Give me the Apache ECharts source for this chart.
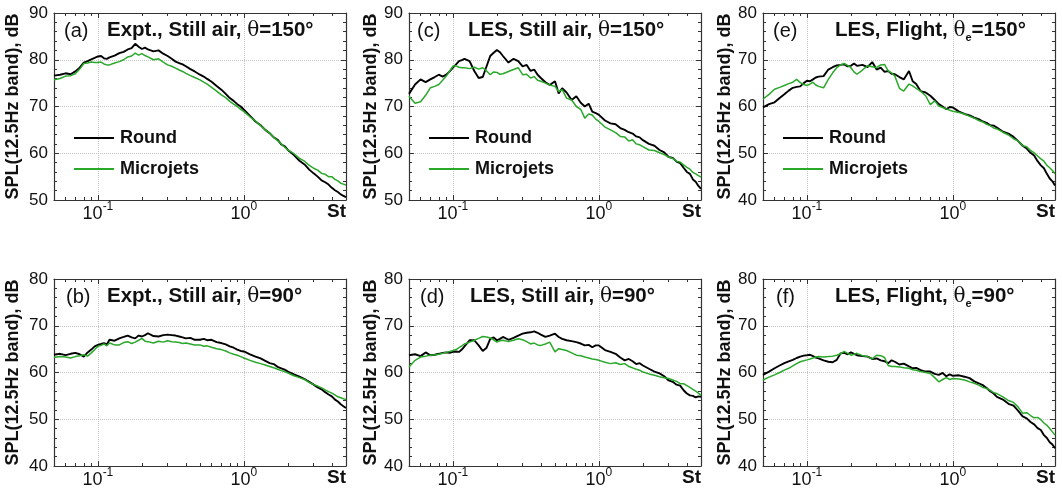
<!DOCTYPE html>
<html><head><meta charset="utf-8">
<script src="https://cdn.jsdelivr.net/npm/echarts@6/dist/echarts.min.js"></script>
<style>html,body{margin:0;padding:0;background:#fff}#c{width:1062px;height:494px}</style>
</head><body><div id="c"></div><script>
// Strouhal numbers (shared abscissa)
const st = [
  0.05,0.055,0.06,0.065,0.07,0.075,0.08,0.085,0.09,0.095,
  0.1,0.105,0.11,0.115,0.12,0.13,0.14,0.15,0.16,0.17,
  0.18,0.19,0.2,0.21,0.22,0.24,0.26,0.28,0.3,0.32,
  0.34,0.36,0.38,0.4,0.43,0.46,0.5,0.53,0.56,0.6,
  0.65,0.7,0.75,0.8,0.85,0.9,0.95,1.0,1.1,1.2,
  1.3,1.4,1.5,1.6,1.7,1.8,1.9,2.0,2.2,2.4,
  2.6,2.8,3.0,3.2,3.4,3.6,3.8,4.0,4.2,4.4,
  4.6,4.8,5.0];

// (a) Expt., still air, 150 deg
const aRound = [
  76.6,76.8,77.1,76.9,77.5,78.3,79.4,79.7,80.1,80.4,
  80.7,80.8,80.3,80.2,80.5,80.9,81.4,81.7,82.2,82.5,
  83.4,82.8,82.3,82.6,82.2,81.8,82.0,81.3,80.8,80.2,
  79.6,79.3,79.0,78.6,78.0,77.5,76.8,76.4,75.9,75.3,
  74.4,73.6,72.7,71.8,71.2,70.5,70.0,69.3,68.0,66.8,
  66.0,65.0,64.3,63.4,62.9,61.9,61.5,60.7,59.6,58.4,
  57.6,56.5,55.7,55.0,54.2,53.8,53.3,52.6,52.1,51.7,
  51.2,50.9,50.6];
const aMicro = [
  75.7,76.0,76.5,76.6,77.0,78.0,79.2,79.3,79.5,79.4,
  79.4,79.5,79.1,78.9,78.9,79.3,79.6,80.0,80.6,80.8,
  81.4,81.0,81.3,80.9,80.6,80.0,80.2,79.5,78.9,78.6,
  78.2,77.8,77.5,77.1,76.6,76.2,75.7,75.2,74.8,74.1,
  73.3,72.5,71.9,71.1,70.5,70.0,69.4,68.9,67.8,66.9,
  65.9,65.0,64.3,63.4,62.7,62.0,61.3,60.7,59.9,58.9,
  58.3,57.4,56.8,56.4,55.7,55.5,55.0,55.0,54.4,54.1,
  53.6,53.4,53.2];
// (c) LES, still air, 150 deg
const cRound = [
  72.7,74.7,75.8,75.2,75.8,76.3,76.8,76.4,76.8,77.5,
  78.3,79.0,79.7,79.9,80.2,79.7,77.6,76.1,76.3,78.6,
  80.8,81.5,82.1,81.6,80.8,79.4,80.2,79.7,78.6,78.9,
  77.6,77.9,76.8,76.1,75.2,74.6,75.4,72.8,73.9,73.0,
  71.4,72.2,70.8,70.0,70.6,68.9,68.6,68.2,67.0,66.4,
  66.2,65.4,65.0,64.5,64.2,63.6,63.4,62.8,62.0,61.6,
  60.7,60.2,59.2,59.0,58.2,57.9,56.9,56.0,55.6,54.4,
  53.9,53.0,52.4];
const cMicro = [
  72.2,70.7,71.0,72.4,74.0,74.3,74.7,75.6,76.5,77.6,
  78.6,78.7,78.4,78.3,78.3,78.1,78.4,78.0,78.3,77.6,
  76.8,77.4,77.3,76.9,77.0,77.5,77.9,78.3,76.8,76.9,
  76.1,76.4,75.6,75.4,75.0,74.6,74.3,73.2,73.6,71.8,
  71.4,70.0,69.4,67.5,68.4,68.2,67.3,66.8,65.6,65.0,
  64.4,63.6,63.5,62.6,62.9,62.0,61.8,61.4,60.7,60.6,
  60.1,59.7,59.2,58.9,58.3,58.1,57.5,57.0,56.6,55.9,
  55.6,55.2,54.9];
// (e) LES, flight, 150 deg
const eRound = [
  59.8,60.5,60.9,61.8,62.6,63.4,64.0,64.2,64.3,65.0,
  65.5,65.4,65.8,66.2,66.4,66.5,67.9,68.4,68.8,68.9,
  69.0,68.6,68.7,69.2,68.7,68.9,68.4,69.5,67.9,68.3,
  67.4,67.6,67.0,66.9,66.3,65.8,67.6,65.4,64.8,63.3,
  63.0,62.3,61.4,60.5,60.0,59.4,59.9,59.8,58.9,58.4,
  58.1,57.6,57.3,56.8,56.5,56.0,55.9,55.5,54.6,54.2,
  53.5,52.6,51.6,51.0,50.1,49.5,48.3,47.4,46.8,45.6,
  44.6,44.0,43.1];
const eMicro = [
  61.6,62.6,63.7,64.1,64.5,64.9,65.2,65.8,65.1,64.7,
  64.5,64.8,65.2,64.6,64.3,64.0,65.8,67.2,68.3,68.9,
  69.2,68.8,68.3,67.4,66.9,67.8,68.7,68.5,68.3,68.9,
  69.0,67.6,67.2,66.5,63.9,63.3,64.8,64.4,63.9,63.3,
  62.3,60.4,61.2,60.1,59.8,59.5,59.2,59.0,58.7,58.4,
  57.9,57.5,57.0,56.7,56.2,55.9,55.4,55.2,54.5,53.9,
  53.1,52.6,51.6,51.4,50.6,50.1,49.4,48.8,48.3,47.4,
  46.9,46.3,45.6];
// (b) Expt., still air, 90 deg
const bRound = [
  63.8,64.0,63.7,64.0,64.2,63.9,63.4,64.3,64.9,65.6,
  65.9,66.1,66.3,66.0,67.0,66.8,67.3,67.6,67.9,67.5,
  67.3,67.9,67.7,68.0,68.4,67.8,67.7,68.0,68.1,68.0,
  67.9,67.7,67.5,67.3,67.4,67.0,67.0,67.2,66.9,67.0,
  66.5,66.3,66.0,65.6,65.3,64.9,64.6,64.5,63.9,63.4,
  63.0,62.5,62.0,61.8,61.2,60.9,60.6,60.2,59.6,59.1,
  58.6,58.0,57.4,56.8,56.4,55.8,55.3,54.9,54.2,53.8,
  53.2,52.8,52.4];
const bMicro = [
  63.2,63.4,63.3,63.1,63.4,63.6,63.8,63.5,64.2,64.9,
  65.6,65.8,66.1,65.7,66.3,65.9,65.9,66.4,66.6,66.2,
  66.5,66.9,67.3,66.7,66.6,66.3,66.7,66.5,66.8,66.6,
  66.5,66.4,66.2,66.3,66.1,65.9,65.9,65.6,65.7,65.4,
  65.1,64.9,64.6,64.2,63.9,63.7,63.4,63.1,62.6,62.2,
  61.9,61.6,61.3,61.0,60.7,60.4,60.2,59.9,59.3,58.9,
  58.5,57.9,57.4,57.1,56.7,56.3,55.9,55.6,55.2,54.8,
  54.6,54.4,54.2];
// (d) LES, still air, 90 deg
const dRound = [
  63.7,63.9,63.5,64.3,63.7,63.8,64.0,64.2,64.3,64.2,
  64.4,64.5,64.4,64.9,65.6,66.9,66.9,65.8,64.6,65.3,
  67.2,67.5,66.9,67.2,67.6,67.0,67.4,67.9,68.3,68.5,
  68.6,68.8,68.5,68.1,67.6,67.9,68.3,67.6,67.2,66.9,
  66.7,66.5,66.2,65.8,65.9,65.4,65.8,65.8,64.8,64.4,
  64.0,63.2,62.6,62.9,62.4,61.8,62.0,61.5,60.8,60.2,
  59.8,59.2,58.3,58.0,57.4,57.2,56.2,55.5,55.1,55.0,
  54.7,54.9,54.8];
const dMicro = [
  61.2,62.6,63.3,63.5,63.7,63.8,63.9,64.1,64.3,64.5,
  64.7,64.9,65.3,65.7,66.1,66.5,66.9,67.3,67.7,67.6,
  67.4,67.0,66.5,66.8,66.9,66.6,66.9,67.2,67.0,66.6,
  66.1,66.3,65.9,65.8,66.1,66.5,64.4,65.1,64.9,64.7,
  64.2,63.7,63.6,63.3,63.1,62.9,62.8,62.6,62.2,61.9,
  62.1,61.7,61.9,61.3,61.0,60.7,60.5,60.1,59.7,59.4,
  59.1,58.9,58.7,58.4,58.1,57.6,57.6,57.2,56.8,56.4,
  56.0,55.6,55.1];
// (f) LES, flight, 90 deg
const fRound = [
  59.5,60.2,60.9,61.5,62.0,62.4,62.7,63.1,63.4,63.6,
  63.7,63.8,63.5,63.2,63.0,62.6,62.3,62.2,62.7,64.1,
  64.2,63.9,64.3,64.0,63.7,63.5,63.4,62.9,63.0,62.6,
  62.4,62.0,62.6,62.3,61.7,61.9,61.3,60.9,61.0,60.5,
  60.2,60.2,59.7,59.5,59.9,59.2,59.6,59.3,59.4,59.1,
  58.8,58.1,57.7,57.3,56.7,56.0,55.5,54.8,54.2,53.3,
  52.9,51.8,50.6,50.2,49.4,48.9,48.1,47.7,46.6,46.0,
  45.1,44.6,43.8];
const fMicro = [
  58.4,59.0,59.5,60.0,60.5,60.9,61.4,61.9,62.3,62.5,
  62.7,62.9,63.1,63.3,63.4,63.3,63.4,63.5,63.7,64.0,
  64.5,64.1,63.7,63.9,64.1,63.6,63.4,62.9,63.7,63.6,
  63.2,61.5,61.3,61.3,61.2,61.0,60.9,60.6,60.5,60.2,
  60.0,59.8,58.9,58.0,58.5,58.9,58.5,58.7,58.6,58.4,
  58.0,57.7,57.3,56.8,56.6,56.2,55.7,55.5,54.8,54.0,
  53.6,52.6,51.3,51.4,50.8,50.3,50.4,49.9,49.2,48.7,
  48.0,47.3,46.6];

const seriesNames = ['Round', 'Microjets'];
const xRange = [0.05, 5];
const yRangesTop = [[50, 90], [50, 90], [40, 80]];
const yRangesBottom = [[40, 80], [40, 80], [40, 80]];
const panelLetters = ['(a)', '(c)', '(e)', '(b)', '(d)', '(f)'];
const yAxisTitle = 'SPL(12.5Hz band), dB';
const xAxisTitle = 'St';

const FONT = '"Liberation Sans", Arial, Helvetica, sans-serif';
const colLeft = [54, 409, 763];
const rowTop = [13, 279];
const W = 292, H = 187;
const nameGaps = [32, 27, 27];

const panels = [
  {col:0,row:0, y:yRangesTop[0], r:aRound, m:aMicro, letter:panelLetters[0], legend:true,
   head:'{b|Expt., Still air, }{t|θ}{b|=150°}', lx:64, hx:107},
  {col:1,row:0, y:yRangesTop[1], r:cRound, m:cMicro, letter:panelLetters[1], legend:true,
   head:'{b|LES, Still air, }{t|θ}{b|=150°}', lx:417, hx:468},
  {col:2,row:0, y:yRangesTop[2], r:eRound, m:eMicro, letter:panelLetters[2], legend:true,
   head:'{b|LES, Flight, }{t|θ}{sub|e}{b|=150°}', lx:773, hx:835},
  {col:0,row:1, y:yRangesBottom[0], r:bRound, m:bMicro, letter:panelLetters[3], legend:false,
   head:'{b|Expt., Still air, }{t|θ}{b|=90°}', lx:66, hx:107},
  {col:1,row:1, y:yRangesBottom[1], r:dRound, m:dMicro, letter:panelLetters[4], legend:false,
   head:'{b|LES, Still air, }{t|θ}{b|=90°}', lx:420, hx:470},
  {col:2,row:1, y:yRangesBottom[2], r:fRound, m:fMicro, letter:panelLetters[5], legend:false,
   head:'{b|LES, Flight, }{t|θ}{sub|e}{b|=90°}', lx:776, hx:835}
];

const AX = '#333', GRIDC = '#c4c4c4', TXT = '#111';
const grids = [], xAxes = [], yAxes = [], series = [], legends = [], graphics = [];

function xFmt(v) {
  const e = Math.log10(v);
  const r = Math.round(e);
  if (Math.abs(e - r) < 1e-6) return '{b|10}{s|' + r + '}';
  return '';
}

panels.forEach((p, i) => {
  const left = colLeft[p.col], top = rowTop[p.row];
  grids.push({left: left, top: top, width: W, height: H, show: false});
  const common = {gridIndex: i, type: 'log', logBase: 10, min: xRange[0], max: xRange[1]};
  xAxes.push(Object.assign({}, common, {
    position: 'bottom',
    axisLine: {show: true, lineStyle: {color: AX, width: 1.2}},
    axisTick: {show: true, inside: true, length: 5, lineStyle: {color: AX}},
    minorTick: {show: true, splitNumber: 9, length: 3, lineStyle: {color: AX}},
    axisLabel: {show: true, margin: 1, formatter: xFmt, showMinLabel: false, showMaxLabel: false,
      rich: {
        b: {fontSize: 18, fontFamily: FONT, color: TXT, lineHeight: 26},
        s: {fontSize: 12, fontFamily: FONT, color: TXT, verticalAlign: 'top'}
      }},
    splitLine: {show: true, lineStyle: {color: GRIDC, type: 'dotted', width: 1}},
    name: xAxisTitle, nameLocation: 'end', nameGap: 0,
    nameTextStyle: {fontFamily: FONT, fontWeight: 'bold', fontSize: 19, color: TXT,
      align: 'right', verticalAlign: 'top', padding: [2, 0, 0, 0]}
  }));
  xAxes.push(Object.assign({}, common, {
    position: 'top',
    axisLine: {show: true, lineStyle: {color: AX, width: 1.2}},
    axisTick: {show: true, inside: true, length: 5, lineStyle: {color: AX}},
    minorTick: {show: true, splitNumber: 9, length: 3, lineStyle: {color: AX}},
    axisLabel: {show: false},
    splitLine: {show: false}
  }));
  const yc = {gridIndex: i, type: 'value', min: p.y[0], max: p.y[1], interval: 10};
  yAxes.push(Object.assign({}, yc, {
    position: 'left',
    axisLine: {show: true, lineStyle: {color: AX, width: 1.2}},
    axisTick: {show: true, inside: true, length: 5, lineStyle: {color: AX}},
    minorTick: {show: true, splitNumber: 5, length: 3, lineStyle: {color: AX}},
    axisLabel: {show: true, margin: 6, fontSize: 17, fontFamily: FONT, color: TXT},
    splitLine: {show: true, lineStyle: {color: GRIDC, type: 'dotted', width: 1}},
    name: yAxisTitle, nameLocation: 'middle', nameRotate: 90, nameGap: nameGaps[p.col],
    nameTextStyle: {fontFamily: FONT, fontWeight: 'bold', fontSize: 18, color: TXT}
  }));
  yAxes.push(Object.assign({}, yc, {
    position: 'right',
    axisLine: {show: true, lineStyle: {color: AX, width: 1.2}},
    axisTick: {show: true, inside: true, length: 5, lineStyle: {color: AX}},
    minorTick: {show: true, splitNumber: 5, length: 3, lineStyle: {color: AX}},
    axisLabel: {show: false},
    splitLine: {show: false}
  }));
  series.push({
    name: seriesNames[0], type: 'line', xAxisIndex: 2 * i, yAxisIndex: 2 * i,
    showSymbol: false, symbol: 'none', silent: true, z: 3,
    lineStyle: {color: '#000000', width: 1.9}, itemStyle: {color: '#000000'},
    data: st.map((x, k) => [x, p.r[k]])
  });
  series.push({
    name: seriesNames[1], type: 'line', xAxisIndex: 2 * i, yAxisIndex: 2 * i,
    showSymbol: false, symbol: 'none', silent: true, z: 4,
    lineStyle: {color: '#2aa82a', width: 1.5}, itemStyle: {color: '#2aa82a'},
    data: st.map((x, k) => [x, p.m[k]])
  });
  if (p.legend) {
    legends.push({
      data: seriesNames, orient: 'vertical', left: left + 19, top: 129, padding: 0,
      itemWidth: 40, itemHeight: 14, itemGap: 13, selectedMode: false,
      itemStyle: {opacity: 0, borderWidth: 0},
      textStyle: {fontFamily: FONT, fontWeight: 'bold', fontSize: 18, color: TXT, padding: [0, 0, 0, 1]}
    });
  }
  const cy = p.row === 0 ? 33 : 299;
  graphics.push({type: 'text', left: p.lx, top: cy - 12, z: 10,
    style: {text: p.letter, font: '20px ' + FONT, fill: TXT}});
  graphics.push({type: 'text', left: p.hx, top: cy - 13, z: 10,
    style: {text: p.head, fill: TXT,
      rich: {
        b: {fontFamily: FONT, fontWeight: 'bold', fontSize: 20.5, fill: TXT, lineHeight: 26},
        t: {fontFamily: '"DejaVu Serif", serif', fontSize: 20, fill: TXT, lineHeight: 26},
        sub: {fontFamily: FONT, fontWeight: 'bold', fontSize: 11, fill: TXT, verticalAlign: 'bottom'}
      }}});
});

const chart = echarts.init(document.getElementById('c'), null, {renderer: 'canvas'});
chart.setOption({
  animation: false,
  backgroundColor: '#ffffff',
  grid: grids, xAxis: xAxes, yAxis: yAxes, series: series, legend: legends,
  graphic: graphics
});
</script></body></html>
